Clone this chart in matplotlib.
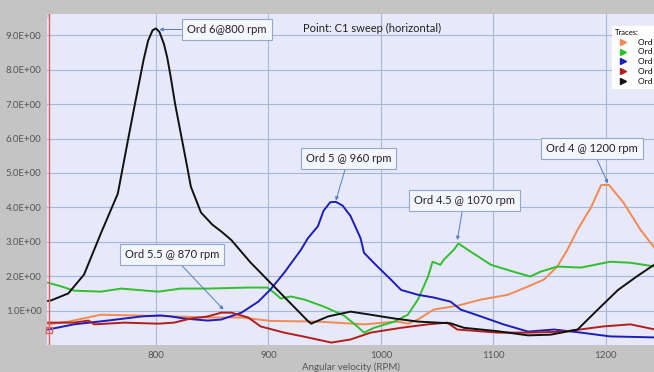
import numpy as np
import matplotlib
matplotlib.use('Agg')
import matplotlib.pyplot as plt
from matplotlib.lines import Line2D

plt.rcParams['font.family'] = ['Lato', 'DejaVu Sans']

# Data
ord6_rpm = [704, 707, 722, 736, 751, 766, 775, 780, 789, 793, 797, 800, 803, 807, 810, 813, 817,
            822, 827, 831, 840, 850, 858, 867, 884, 902, 911, 923, 935, 938, 953, 973, 991,
            1012, 1033, 1062, 1074, 1104, 1131, 1151, 1175, 1193, 1211, 1228, 1244]
ord6_amp = [1.28, 1.3, 1.5, 2.05, 3.25, 4.4, 5.95, 6.8, 8.3, 8.85, 9.15, 9.2, 9.1, 8.75, 8.35, 7.8, 7.0,
            6.15, 5.3, 4.6, 3.85, 3.5, 3.3, 3.05, 2.4, 1.8, 1.5, 1.1, 0.7, 0.62, 0.83, 0.97, 0.88,
            0.77, 0.68, 0.63, 0.5, 0.4, 0.28, 0.3, 0.45, 1.03, 1.6, 2.0, 2.35]

ord5_rpm = [704, 727, 757, 787, 804, 813, 825, 846, 858, 876, 891, 902, 914, 929, 935, 944,
            949, 955, 960, 966, 973, 982, 985, 997, 1009, 1018, 1033, 1047, 1062, 1071, 1089, 1109,
            1131, 1154, 1178, 1204, 1244]
ord5_amp = [0.45, 0.6, 0.71, 0.83, 0.86, 0.83, 0.77, 0.71, 0.74, 0.94, 1.26, 1.62, 2.1, 2.77, 3.1, 3.45,
            3.9, 4.15, 4.16, 4.05, 3.75, 3.1, 2.68, 2.28, 1.9, 1.6, 1.46, 1.38, 1.26, 1.03, 0.83, 0.6,
            0.39, 0.45, 0.36, 0.25, 0.22]

ord45_rpm = [704, 716, 727, 751, 769, 802, 822, 846, 882, 899, 905, 911, 920, 932, 949, 967,
             979, 985, 994, 1012, 1024, 1033, 1042, 1046, 1053, 1056, 1065, 1069, 1080, 1098,
             1118, 1133, 1142, 1157, 1178, 1204, 1222, 1244]
ord45_amp = [1.81, 1.7, 1.58, 1.55, 1.64, 1.55, 1.64, 1.64, 1.67, 1.67, 1.52, 1.35, 1.41, 1.32, 1.12, 0.86,
             0.54, 0.36, 0.5, 0.68, 0.88, 1.32, 1.99, 2.42, 2.33, 2.48, 2.77, 2.95, 2.71, 2.33,
             2.13, 1.99, 2.13, 2.28, 2.25, 2.42, 2.39, 2.28]

ord4_rpm = [704, 722, 751, 780, 816, 846, 876, 902, 944, 985, 1003, 1015, 1024, 1033, 1047, 1068,
            1089, 1113, 1131, 1145, 1157, 1166, 1175, 1187, 1196, 1203, 1216, 1231, 1244]
ord4_amp = [0.6, 0.68, 0.88, 0.86, 0.83, 0.8, 0.8, 0.7, 0.68, 0.6, 0.65, 0.68, 0.62, 0.74, 1.03, 1.14,
            1.32, 1.46, 1.7, 1.9, 2.28, 2.77, 3.35, 4.0, 4.65, 4.65, 4.13, 3.35, 2.8]

ord55_rpm = [704, 727, 740, 745, 772, 802, 816, 831, 846, 858, 867, 882, 893, 914, 935, 956,
             973, 991, 1018, 1042, 1059, 1068, 1104, 1133, 1163, 1198, 1222, 1244]
ord55_amp = [0.65, 0.65, 0.71, 0.6, 0.65, 0.62, 0.65, 0.77, 0.83, 0.94, 0.94, 0.8, 0.54, 0.36, 0.22, 0.07,
             0.16, 0.36, 0.5, 0.6, 0.65, 0.45, 0.36, 0.36, 0.39, 0.54, 0.6, 0.45]

trace_names  = ['Ord 4', 'Ord 4.5', 'Ord 5', 'Ord 5.5', 'Ord 6']
trace_colors = ['#f28a52', '#2fbf2f', '#1d1dbb', '#b01e1e', '#111111']

yticks = [1, 2, 3, 4, 5, 6, 7, 8, 9]
xticks = [800, 900, 1000, 1100, 1200]

# Figure
fig = plt.figure(figsize=(6.54, 3.72), dpi=100, facecolor='#c4c4c4')
ax = fig.add_axes([47/654, 1 - 345/372, 607/654, 331/372])
ax.set_facecolor('#e7e8f9')
for s in ax.spines.values():
    s.set_visible(False)

ax.set_xlim(703, 1243)
ax.set_ylim(0, 9.62)
ax.set_xticks(xticks)
ax.set_yticks(yticks)
ax.set_yticklabels([f'{v:.1f}E+00' for v in yticks])
ax.tick_params(length=0, labelsize=7, colors='#555555', pad=4)
ax.grid(True, color='#a5b8d6', lw=0.8)
ax.set_axisbelow(True)
ax.set_xlabel('Angular velocity (RPM)', fontsize=7, color='#555555', labelpad=2)

series = [(ord4_rpm, ord4_amp), (ord45_rpm, ord45_amp), (ord5_rpm, ord5_amp),
          (ord55_rpm, ord55_amp), (ord6_rpm, ord6_amp)]
for (x, y), c in zip(series, trace_colors):
    ax.plot(x, y, color=c, lw=1.4, solid_joinstyle='round')

# red cursor on the left
ax.axvline(704.5, color='#e06060', lw=1.0)
ax.plot([704.5], [0.45], marker='s', ms=4, mfc='none', mec='#e06060', clip_on=False)
ax.text(704.5, 9.55, '3', color='#e06060', fontsize=4, ha='center', va='center')

ax.text(931, 9.2, 'Point: C1 sweep (horizontal)', fontsize=8, color='#222222', va='center')

box = dict(boxstyle='square,pad=0.45', fc='#f5f6fd', ec='#90a8cc', lw=0.8)
arr = dict(arrowstyle='-|>', color='#4f7fbf', lw=0.7, mutation_scale=5, shrinkA=0, shrinkB=0)
notes = [('Ord 6@800 rpm', (803, 9.17), (863, 9.17)),
         ('Ord 5 @ 960 rpm', (960, 4.2), (971, 5.41)),
         ('Ord 4 @ 1200 rpm', (1202, 4.7), (1188, 5.7)),
         ('Ord 4.5 @ 1070 rpm', (1068, 3.05), (1074, 4.19)),
         ('Ord 5.5 @ 870 rpm', (860, 1.03), (814, 2.62))]
for txt, xy, xyt in notes:
    ax.annotate(txt, xy=xy, xytext=xyt, ha='center', va='center', fontsize=8,
                color='#222222', bbox=box, arrowprops=arr)

# legend (cut at the right edge like the reference)
handles = [Line2D([], [], ls='none', marker='>', ms=5, color=c) for c in trace_colors]
leg = ax.legend(handles, trace_names, title='Traces:', loc='upper left',
                bbox_to_anchor=(0.924, 0.976), fontsize=6, title_fontsize=5.5,
                frameon=True, fancybox=False, facecolor='white', edgecolor='white',
                framealpha=1, handletextpad=0.8, labelspacing=0.35, borderpad=0.3)
leg._legend_box.align = 'left'

fig.savefig('out.png', dpi=100, facecolor=fig.get_facecolor())
